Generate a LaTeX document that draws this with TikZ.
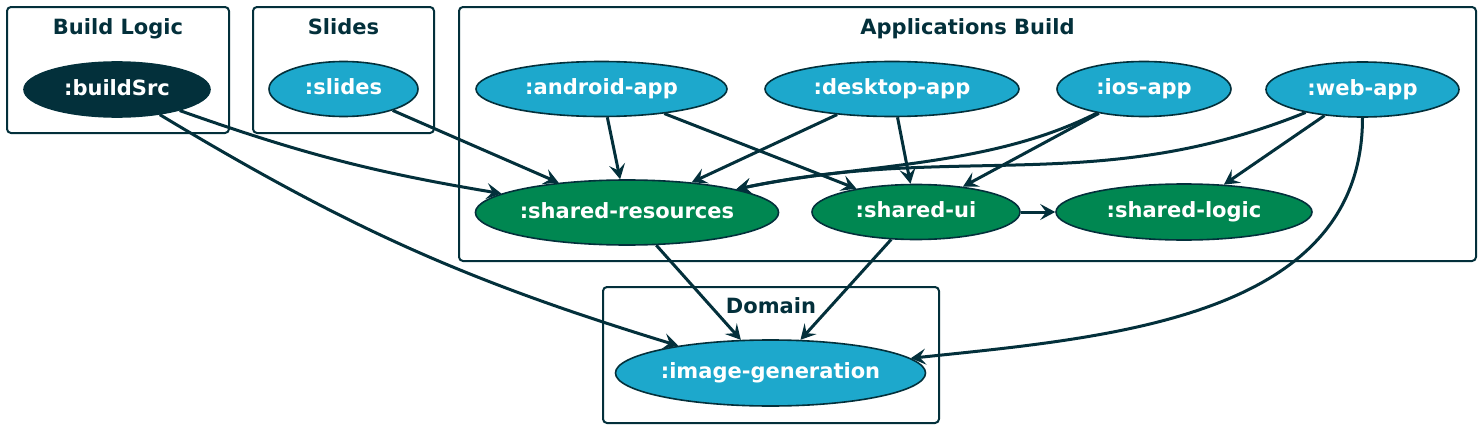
\documentclass[tikz,border=0pt]{standalone}
\usepackage{fontspec}
\setmainfont{DejaVu Sans}
\usepackage{xcolor}
\usetikzlibrary{shapes.geometric,arrows.meta}

\definecolor{dark}{HTML}{03303B}
\definecolor{modblue}{HTML}{1DA8CC}
\definecolor{modgreen}{HTML}{008751}

\begin{document}
\begin{tikzpicture}[x=0.5pt,y=-0.5pt,
	cluster/.style={draw=dark,line width=1pt,rounded corners=2pt},
	title/.style={anchor=base,text=dark,font=\fontsize{10.5}{12}\selectfont\bfseries},
	module/.style={ellipse,draw=dark,line width=0.8pt,inner sep=0pt,text=white,text height=8pt,text depth=2.5pt,font=\fontsize{10.5}{12}\selectfont\bfseries},
	app/.style={module,fill=modblue,minimum height=27.5pt},
	shared/.style={module,fill=modgreen,minimum height=28pt},
	dep/.style={->,>={Stealth[length=7.5pt,width=8pt,inset=3pt]},draw=dark,line width=1.5pt}]
	\useasboundingbox (0,0) rectangle (1480,428) ;
	\draw[cluster] (7,7) rectangle (229,133) ;
	\node[title] (tbuild) at (118,34) {Build Logic} ;
	\draw[cluster] (253,7) rectangle (434,133) ;
	\node[title] (tslides) at (343.5,34) {Slides} ;
	\draw[cluster] (459,7) rectangle (1476,261) ;
	\node[title] (tapps) at (967.5,34) {Applications Build} ;
	\draw[cluster] (603,287) rectangle (939,423) ;
	\node[title] (tdomain) at (771,313) {Domain} ;
	\node[module,fill=dark,minimum width=93pt,minimum height=27.5pt] (buildSrc) at (117,89.5) {:buildSrc} ;
	\node[app,minimum width=74.5pt] (slides) at (343.5,89) {:slides} ;
	\node[app,minimum width=125.5pt] (android) at (601.5,89) {:android-app} ;
	\node[app,minimum width=127pt] (desktop) at (892,89) {:desktop-app} ;
	\node[app,minimum width=87pt] (ios) at (1144,89) {:ios-app} ;
	\node[app,minimum width=96.5pt] (web) at (1362.5,89.5) {:web-app} ;
	\node[shared,minimum width=150pt,minimum height=32.5pt] (sharedres) at (627,212.5) {:shared-resources} ;
	\node[shared,minimum width=104pt,minimum height=27.5pt] (sharedui) at (916,212) {:shared-ui} ;
	\node[shared,minimum width=128pt] (sharedlogic) at (1184,212) {:shared-logic} ;
	\node[app,minimum width=152.5pt,minimum height=33pt] (imagegen) at (770.5,373) {:image-generation} ;
	\draw[dep] (buildSrc) to[bend right=5] (sharedres) ;
	\draw[dep] (buildSrc) to[bend right=7] (imagegen) ;
	\draw[dep] (slides) -- (sharedres) ;
	\draw[dep] (android) -- (sharedres) ;
	\draw[dep] (android) -- (sharedui) ;
	\draw[dep] (desktop) -- (sharedres) ;
	\draw[dep] (desktop) -- (sharedui) ;
	\draw[dep] (ios) to[out=207,in=12,looseness=0.85] (sharedres) ;
	\draw[dep] (ios) -- (sharedui) ;
	\draw[dep] (web) to[out=202,in=12] (sharedres) ;
	\draw[dep] (web) -- (sharedlogic) ;
	\draw[dep] (web) to[out=-90,in=6] (imagegen) ;
	\draw[dep] (sharedres) -- (imagegen) ;
	\draw[dep] (sharedui) -- (imagegen) ;
	\draw[dep] (sharedui) -- (sharedlogic) ;
\end{tikzpicture}
\end{document}
